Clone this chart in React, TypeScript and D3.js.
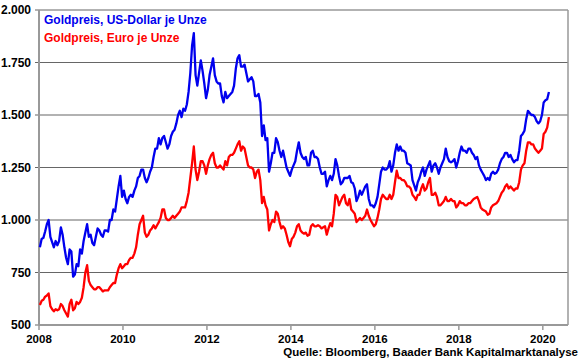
import React from "react";
import * as d3 from "d3";

// half-monthly gold prices, first half / second half of each month, Jan 2008 - Feb 2020
const startYear = 2008;
const usd = [
  // 2008
  870, 910, 915, 945, 980, 1000, 920, 895, 870, 900, 880, 900,
  965, 930, 870, 820, 790, 860, 850, 730, 740, 790, 780, 860,
  // 2009
  840, 900, 940, 980, 920, 930, 890, 880, 920, 960, 950, 930,
  920, 950, 950, 945, 1000, 1000, 1050, 1040, 1100, 1160, 1210, 1110,
  // 2010
  1140, 1100, 1080, 1110, 1120, 1110, 1140, 1160, 1200, 1210, 1240, 1240,
  1200, 1180, 1200, 1230, 1250, 1300, 1340, 1340, 1390, 1360, 1390, 1400,
  // 2011
  1370, 1340, 1360, 1400, 1420, 1430, 1460, 1500, 1520, 1490, 1530, 1520,
  1550, 1610, 1700, 1830, 1890, 1690, 1640, 1700, 1760, 1710, 1650, 1580,
  // 2012
  1620, 1690, 1730, 1770, 1690, 1660, 1650, 1650, 1590, 1560, 1610, 1580,
  1590, 1600, 1610, 1640, 1720, 1770, 1785, 1730, 1730, 1740, 1700, 1660,
  // 2013
  1670, 1680, 1660, 1590, 1590, 1600, 1560, 1400, 1450, 1380, 1390, 1230,
  1270, 1320, 1320, 1390, 1370, 1330, 1300, 1330, 1290, 1250, 1230, 1210,
  // 2014
  1240, 1260, 1280, 1330, 1370, 1320, 1300, 1290, 1300, 1260, 1260, 1320,
  1330, 1300, 1300, 1290, 1250, 1220, 1220, 1230, 1160, 1190, 1210, 1190,
  // 2015
  1220, 1290, 1260, 1210, 1170, 1180, 1200, 1200, 1200, 1210, 1180, 1175,
  1150, 1090, 1110, 1140, 1120, 1140, 1160, 1170, 1100, 1070, 1070, 1060,
  // 2016
  1080, 1110, 1170, 1230, 1250, 1240, 1240, 1250, 1280, 1230, 1260, 1320,
  1360, 1330, 1350, 1330, 1330, 1320, 1270, 1265, 1260, 1190, 1165, 1140,
  // 2017
  1180, 1200, 1230, 1250, 1210, 1240, 1260, 1280, 1230, 1260, 1270, 1250,
  1220, 1250, 1270, 1290, 1340, 1300, 1280, 1275, 1280, 1290, 1250, 1280,
  // 2018
  1320, 1350, 1330, 1330, 1320, 1340, 1340, 1320, 1310, 1290, 1300, 1260,
  1240, 1225, 1210, 1190, 1200, 1190, 1220, 1230, 1220, 1225, 1240, 1270,
  // 2019
  1290, 1300, 1320, 1320, 1300, 1310, 1290, 1275, 1285, 1285, 1330, 1400,
  1410, 1425, 1480, 1520, 1510, 1500, 1500, 1490, 1470, 1460, 1470, 1500,
  // 2020
  1560, 1570, 1575, 1610,
];
const eur = [
  // 2008
  595, 615, 620, 635, 640, 650, 590, 575, 565, 575, 570, 575,
  600, 590, 570, 555, 540, 600, 620, 570, 580, 610, 600, 610,
  // 2009
  630, 680, 750, 785, 710, 690, 680, 670, 670, 680, 680, 670,
  660, 665, 665, 665, 680, 690, 700, 700, 740, 770, 790, 770,
  // 2010
  780, 790, 790, 810, 820, 820, 840, 870, 930, 980, 1000, 1020,
  940, 920, 930, 950, 960, 975, 960, 975, 990, 1010, 1050, 1050,
  // 2011
  1010, 1000, 1000, 1010, 1020, 1010, 1020, 1030, 1040, 1060, 1060, 1060,
  1090, 1130, 1200, 1270, 1350, 1240, 1190, 1230, 1280, 1280, 1260, 1220,
  // 2012
  1260, 1290, 1310, 1320, 1270, 1250, 1250, 1260, 1250, 1240, 1280, 1260,
  1300, 1310, 1310, 1320, 1340, 1360, 1375, 1330, 1350, 1340, 1300, 1260,
  // 2013
  1250, 1250, 1240, 1200, 1230, 1240, 1190, 1080, 1110, 1070, 1050, 950,
  980, 1000, 990, 1040, 1030, 990, 960, 970, 960, 930, 895, 875,
  // 2014
  910, 920, 940, 970, 980, 950, 940, 935, 940, 925, 930, 970,
  980, 970, 970, 975, 970, 960, 965, 970, 930, 960, 985, 970,
  // 2015
  1030, 1120, 1110, 1070, 1090, 1110, 1120, 1080, 1070, 1100, 1050, 1040,
  1030, 990, 1000, 1010, 1000, 1010, 1020, 1050, 1020, 1000, 985, 970,
  // 2016
  980, 1010, 1050, 1100, 1120, 1110, 1100, 1100, 1120, 1100, 1120, 1180,
  1235, 1200, 1200, 1190, 1190, 1180, 1160, 1160, 1150, 1120, 1110, 1095,
  // 2017
  1120, 1120, 1150, 1170, 1140, 1150, 1180, 1200, 1120, 1120, 1130, 1110,
  1070, 1070, 1080, 1090, 1110, 1090, 1090, 1100, 1090, 1090, 1060, 1070,
  // 2018
  1090, 1080, 1080, 1070, 1070, 1080, 1080, 1090, 1100, 1105, 1110, 1090,
  1060, 1050, 1045, 1040, 1025, 1030, 1060, 1070, 1075, 1080, 1090, 1110,
  // 2019
  1130, 1140, 1160, 1170, 1150, 1160, 1150, 1140, 1150, 1150, 1180, 1240,
  1260, 1270, 1330, 1370, 1370, 1360, 1360, 1340, 1330, 1320, 1330, 1340,
  // 2020
  1410, 1420, 1440, 1490,
];
const yTicks = [500, 750, 1000, 1250, 1500, 1750, 2000];
const xTicks = [2008, 2010, 2012, 2014, 2016, 2018, 2020];
const legend = ["Goldpreis, US-Dollar je Unze", "Goldpreis, Euro je Unze"];
const source = "Quelle: Bloomberg, Baader Bank Kapitalmarktanalyse";

const W = 580;
const H = 359;
const FONT = "'Liberation Sans', Arial, sans-serif";

export default function App() {
  const x = d3.scaleLinear().domain([2008, 2020.6]).range([39, 568]);
  const y = d3.scaleLinear().domain([500, 2000]).range([325, 10]);
  const t = (i: number) => startYear + i / 24 + 1 / 48;
  const line = d3
    .line<number>()
    .x((_, i) => x(t(i)))
    .y((d) => y(d));
  const fmt = (v: number) => d3.format(",")(v).replace(",", ".");

  return (
    <svg
      width={W}
      height={H}
      style={{ position: "absolute", left: 0, top: 0, background: "#fff" }}
      fontFamily={FONT}
      fontWeight="bold"
    >
      {yTicks.map((v) => (
        <g key={v}>
          <line x1={35} x2={568} y1={y(v)} y2={y(v)} stroke="#666" strokeWidth={1.2} />
          <text x={31} y={y(v) + 4} textAnchor="end" fontSize={12} fill="#000">
            {fmt(v)}
          </text>
        </g>
      ))}
      <line x1={39} x2={39} y1={10} y2={325} stroke="#999" strokeWidth={2} />
      <line x1={568} x2={568} y1={10} y2={325} stroke="#999" strokeWidth={1.5} />
      <line x1={39} x2={568} y1={325} y2={325} stroke="#999" strokeWidth={2} />
      {xTicks.map((v) => (
        <g key={v}>
          <line x1={x(v)} x2={x(v)} y1={325} y2={330} stroke="#999" strokeWidth={1.5} />
          <text x={x(v)} y={342.5} textAnchor="middle" fontSize={11.5} fill="#000">
            {v}
          </text>
        </g>
      ))}
      <path d={line(eur) || ""} fill="none" stroke="#ff0000" strokeWidth={2.3} strokeLinejoin="round" />
      <path d={line(usd) || ""} fill="none" stroke="#0000ee" strokeWidth={2.3} strokeLinejoin="round" />
      <text x={44} y={24} fontSize={12} fill="#0000ee">
        {legend[0]}
      </text>
      <text x={44} y={42} fontSize={12} fill="#ff0000">
        {legend[1]}
      </text>
      <text x={578} y={355.5} textAnchor="end" fontSize={11.5} fill="#000">
        {source}
      </text>
    </svg>
  );
}
